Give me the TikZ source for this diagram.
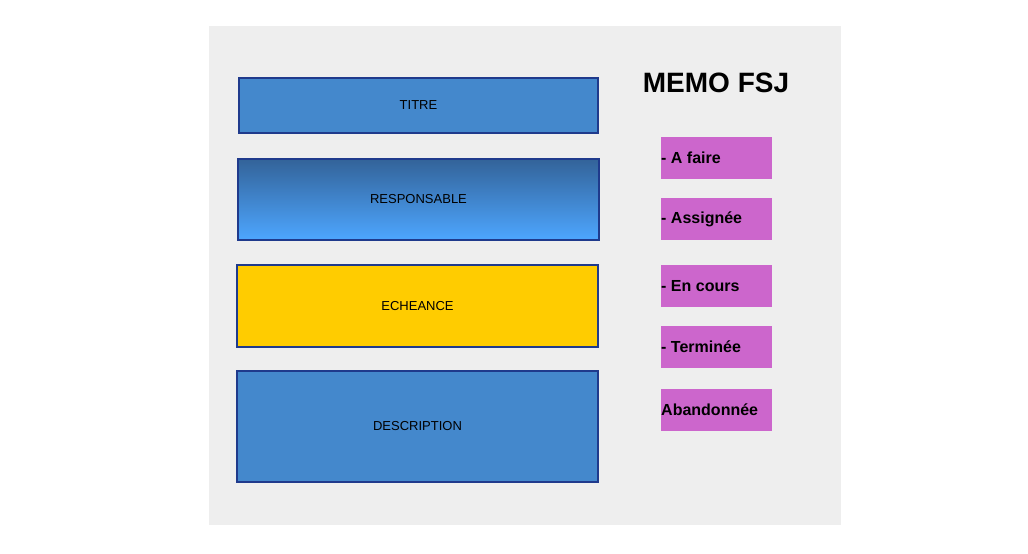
\documentclass[tikz,border=0pt]{standalone}
\usepackage{fontspec}
\setmainfont{Liberation Sans}
\definecolor{bg}{HTML}{EEEEEE}
\definecolor{boxblue}{HTML}{4488CC}
\definecolor{edge}{HTML}{1F3A8C}
\definecolor{gtop}{HTML}{336399}
\definecolor{gbot}{HTML}{4DA6FF}
\definecolor{gold}{HTML}{FFCC00}
\definecolor{pink}{HTML}{CC66CC}
\begin{document}
\begin{tikzpicture}[x=1pt,y=-1pt,
  field/.style={draw=edge,line width=1.6pt,inner sep=0pt,font=\fontsize{13}{15}\selectfont},
  status/.style={fill=pink,inner sep=0pt,font=\bfseries\fontsize{16}{18}\selectfont}]
\useasboundingbox (0,0) rectangle (1028,554);
\fill[white] (0,0) rectangle (1028,554);
\fill[bg] (209,26) rectangle (841,525);
\draw[field,fill=boxblue] (239,78) rectangle (598,133) node[midway] (titre) {TITRE};
\shade[top color=gtop,bottom color=gbot] (238,159) rectangle (599,240);
\draw[field] (238,159) rectangle (599,240) node[midway] (resp) {RESPONSABLE};
\draw[field,fill=gold] (237,265) rectangle (598,347) node[midway] (ech) {ECHEANCE};
\draw[field,fill=boxblue] (237,371) rectangle (598,482) node[midway] (desc) {DESCRIPTION};
\node[font=\bfseries\fontsize{28}{32}\selectfont] (title) at (716,83) {MEMO FSJ};
\fill[pink] (661,137) rectangle (772,179);
\node[status,anchor=west] (s1) at (661,158) {- A faire};
\fill[pink] (661,198) rectangle (772,240);
\node[status,anchor=west] (s2) at (661,219) {- Assignée};
\fill[pink] (661,265) rectangle (772,307);
\node[status,anchor=west] (s3) at (661,286) {- En cours};
\fill[pink] (661,326) rectangle (772,368);
\node[status,anchor=west] (s4) at (661,347) {- Terminée};
\fill[pink] (661,389) rectangle (772,431);
\node[status,anchor=west] (s5) at (661,410) {Abandonnée};
\end{tikzpicture}
\end{document}
